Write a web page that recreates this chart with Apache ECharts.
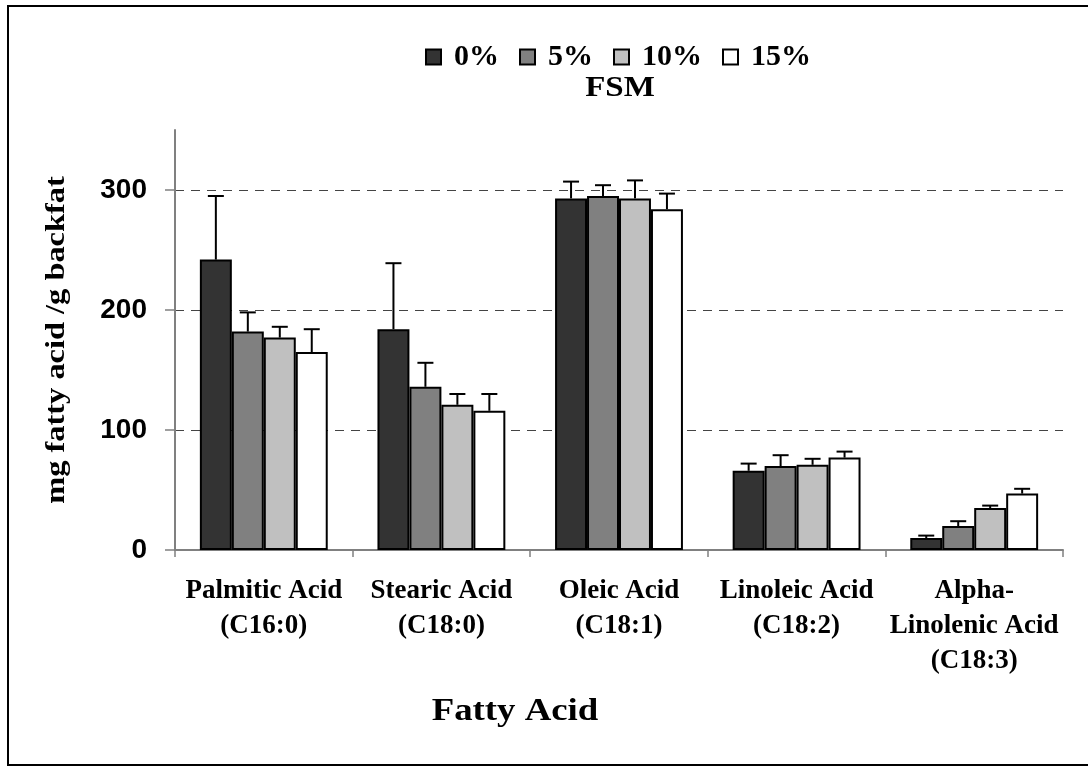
<!DOCTYPE html>
<html>
<head>
<meta charset="utf-8">
<script src="https://cdn.jsdelivr.net/npm/echarts@6/dist/echarts.min.js"></script>
<style>
  html, body { margin: 0; padding: 0; background: #fff; }
  #chart { width: 1088px; height: 766px; }
</style>
</head>
<body>
<div id="chart"></div>
<script>
// Fatty acid content of backfat (mg / g) by dietary FSM level, mean + SE
const categories = [
  'Palmitic Acid\n(C16:0)',
  'Stearic Acid\n(C18:0)',
  'Oleic Acid\n(C18:1)',
  'Linoleic Acid\n(C18:2)',
  'Alpha-\nLinolenic Acid\n(C18:3)'
];
const levels = ['0%', '5%', '10%', '15%'];
const fsm0 = [242, 184, 293, 66, 10];
const fsm5 = [182, 136, 295, 70, 20];
const fsm10 = [177, 121, 293, 71, 35];
const fsm15 = [165, 116, 284, 77, 47];
const err0 = [53, 55, 14, 6, 2];
const err5 = [16, 20, 9, 9, 4];
const err10 = [9, 9, 15, 5, 2];
const err15 = [19, 14, 13, 5, 4];
const yTicks = [0, 100, 200, 300];

const values = [fsm0, fsm5, fsm10, fsm15];
const errors = [err0, err5, err10, err15];
const fills = ['#333333', '#808080', '#c0c0c0', '#ffffff'];
const BAR_FRAC = 0.18;
const serif = '"Liberation Serif", "Times New Roman", serif';
const sans = '"Liberation Sans", Arial, sans-serif';

const barSeries = levels.map((lv, k) => ({
  type: 'bar',
  name: lv,
  data: values[k],
  barWidth: (BAR_FRAC * 100) + '%',
  barGap: '0%',
  itemStyle: { color: fills[k], borderColor: '#000', borderWidth: 2 },
  z: 2
}));

// upper error bars, placed on each bar of the group
const errSeries = levels.map((lv, k) => ({
  type: 'custom',
  name: 'se ' + lv,
  silent: true,
  z: 3,
  data: values[k].map((v, i) => [i, v, v + errors[k][i]]),
  renderItem: (params, api) => {
    const band = api.size([1, 0])[0];
    const bw = band * BAR_FRAC;
    const cx = api.coord([api.value(0), 0])[0] + (k - 1.5) * bw;
    const yTop = api.coord([api.value(0), api.value(1)])[1];
    const yEnd = api.coord([api.value(0), api.value(2)])[1];
    const half = 8;
    const st = { stroke: '#000', lineWidth: 2 };
    return {
      type: 'group',
      children: [
        { type: 'line', shape: { x1: cx, y1: yTop, x2: cx, y2: yEnd }, style: st },
        { type: 'line', shape: { x1: cx - half, y1: yEnd, x2: cx + half, y2: yEnd }, style: st }
      ]
    };
  }
}));

const chart = echarts.init(document.getElementById('chart'), null, { renderer: 'canvas' });
chart.setOption({
  backgroundColor: '#fff',
  animation: false,
  grid: { left: 175, right: 25, top: 130, bottom: 216, containLabel: false },
  legend: {
    data: levels,
    top: 37,
    left: 420,
    icon: 'rect',
    itemWidth: 15,
    itemHeight: 15,
    itemGap: 20,
    selectedMode: false,
    textStyle: {
      fontFamily: serif, fontWeight: 'bold', fontSize: 30, color: '#000',
      padding: [0, 0, 0, 8]
    }
  },
  xAxis: {
    type: 'category',
    data: categories,
    axisLine: { lineStyle: { color: '#808080', width: 2 } },
    axisTick: { show: true, alignWithLabel: false, length: 7, lineStyle: { color: '#808080', width: 1.5 } },
    axisLabel: {
      interval: 0,
      margin: 24,
      fontFamily: serif, fontWeight: 'bold', fontSize: 27, color: '#000',
      lineHeight: 35
    },
    splitLine: { show: false }
  },
  yAxis: {
    type: 'value',
    min: 0,
    max: 350,
    interval: 100,
    axisLine: { show: true, lineStyle: { color: '#808080', width: 2 } },
    axisTick: { show: true, length: 10, customValues: yTicks, lineStyle: { color: '#808080', width: 1.5 } },
    axisLabel: {
      customValues: yTicks,
      margin: 28,
      fontFamily: sans, fontWeight: 'bold', fontSize: 28, color: '#000'
    },
    splitLine: {
      show: true,
      showMinLine: false,
      lineStyle: { color: '#444', width: 1, type: [9, 7] }
    }
  },
  graphic: [
    {
      type: 'rect',
      shape: { x: 8, y: 6, width: 1100, height: 759 },
      style: { fill: 'none', stroke: '#000', lineWidth: 2 },
      silent: true, z: 100
    },
    {
      type: 'text',
      x: 620, y: 88,
      scaleX: 1.1,
      style: {
        text: 'FSM', fill: '#000', align: 'center', verticalAlign: 'middle',
        font: 'bold 30px ' + serif
      }
    },
    {
      type: 'text',
      x: 515, y: 712,
      scaleX: 1.15,
      style: {
        text: 'Fatty Acid', fill: '#000', align: 'center', verticalAlign: 'middle',
        font: 'bold 32px ' + serif
      }
    },
    {
      type: 'text',
      x: 57, y: 340,
      rotation: Math.PI / 2,
      scaleX: 1.2,
      style: {
        text: 'mg fatty acid /g backfat', fill: '#000', align: 'center', verticalAlign: 'middle',
        font: 'bold 27px ' + serif
      }
    }
  ],
  series: barSeries.concat(errSeries)
});
</script>
</body>
</html>
